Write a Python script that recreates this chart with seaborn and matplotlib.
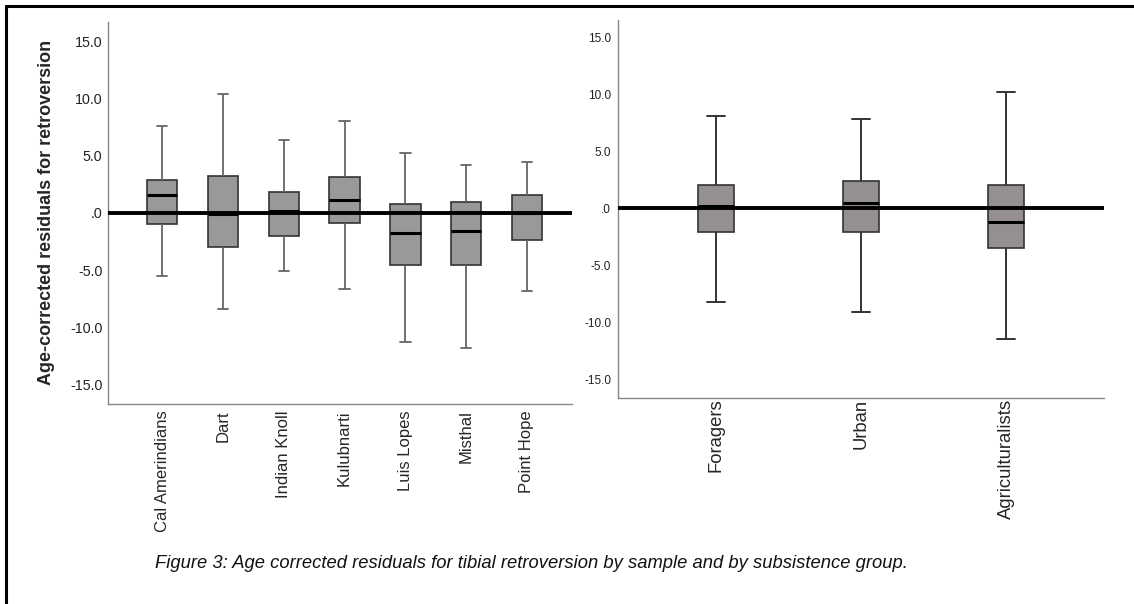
import matplotlib
matplotlib.use("Agg")
import matplotlib.pyplot as plt
from matplotlib.lines import Line2D
import seaborn as sns
import pandas as pd
import numpy as np

sns.set_style("white")
plt.rcParams['font.family'] = ['Liberation Sans', 'DejaVu Sans']

# ---- data: five-number summaries ----
samples = ["Cal Amerindians", "Dart", "Indian Knoll", "Kulubnarti", "Luis Lopes", "Misthal", "Point Hope"]
sample_low = [-5.5, -8.4, -5.1, -6.6, -11.3, -11.8, -6.8]
sample_q1 = [-0.95, -3.0, -2.05, -0.85, -4.5, -4.5, -2.4]
sample_med = [1.55, -0.05, 0.15, 1.15, -1.75, -1.55, 0.0]
sample_q3 = [2.9, 3.2, 1.8, 3.15, 0.8, 1.0, 1.6]
sample_high = [7.6, 10.4, 6.35, 8.0, 5.25, 4.2, 4.45]

groups = ["Foragers", "Urban", "Agriculturalists"]
group_low = [-8.2, -9.1, -11.5]
group_q1 = [-2.05, -2.1, -3.5]
group_med = [0.25, 0.45, -1.2]
group_q3 = [2.05, 2.45, 2.05]
group_high = [8.15, 7.85, 10.25]

ytick_vals = [15, 10, 5, 0, -5, -10, -15]
ytick_labels = ["15.0", "10.0", "5.0", ".0", "-5.0", "-10.0", "-15.0"]

ylabel = "Age-corrected residuals for retroversion"
caption = "Figure 3: Age corrected residuals for tibial retroversion by sample and by subsistence group."


def long_frame(cats, lo, q1, md, q3, hi):
    rows = []
    for c, a, b, m, d, e in zip(cats, lo, q1, md, q3, hi):
        for v in (a, b, m, d, e):
            rows.append({"cat": c, "val": v})
    return pd.DataFrame(rows)


df_s = long_frame(samples, sample_low, sample_q1, sample_med, sample_q3, sample_high)
df_g = long_frame(groups, group_low, group_q1, group_med, group_q3, group_high)

fig = plt.figure(figsize=(11.34, 6.04), dpi=100)
ax1 = fig.add_axes([108 / 1134, 1 - 404 / 604, (572 - 108) / 1134, (404 - 22) / 604])
ax2 = fig.add_axes([618 / 1134, 1 - 398 / 604, (1104 - 618) / 1134, (398 - 20) / 604])

sns.boxplot(data=df_s, x="cat", y="val", order=samples, ax=ax1, whis=np.inf,
            width=0.5, color="#999999", saturation=1, linecolor="#333333", linewidth=1.2,
            whiskerprops=dict(color="#666666", linewidth=1.3),
            capprops=dict(color="#666666", linewidth=1.3),
            medianprops=dict(color="black", linewidth=2.2),
            capwidths=0.17)

sns.boxplot(data=df_g, x="cat", y="val", order=groups, ax=ax2, whis=np.inf,
            width=0.255, color="#968f8f", saturation=1, linecolor="#333333", linewidth=1.2,
            whiskerprops=dict(color="#333333", linewidth=1.4),
            capprops=dict(color="#333333", linewidth=1.4),
            medianprops=dict(color="black", linewidth=2.2),
            capwidths=0.12)

for ax, xl, yl, tsize, ypad, xsize, xpad in (
        (ax1, (-0.89, 6.74), (-16.67, 16.67), 10.3, 4, 12, 4.5),
        (ax2, (-0.676, 2.676), (-16.65, 16.56), 8.5, 5, 13.3, 0.5)):
    ax.axhline(0, color="black", linewidth=2.8, zorder=3)
    ax.set_xlim(*xl)
    ax.set_ylim(*yl)
    ax.set_yticks(ytick_vals)
    ax.set_yticklabels(ytick_labels, fontsize=tsize, color="#222222")
    ax.tick_params(axis="x", labelrotation=90, labelsize=xsize, length=0, pad=xpad)
    ax.tick_params(axis="y", length=0, pad=ypad)
    ax.set_xlabel("")
    ax.set_ylabel("")
    for s in ("top", "right"):
        ax.spines[s].set_visible(False)
    for s in ("left", "bottom"):
        ax.spines[s].set_color("#888888")
        ax.spines[s].set_linewidth(1.0)

ax1.set_ylabel(ylabel, fontsize=13, fontweight="bold", va="center")
ax1.yaxis.set_label_coords((47 - 108) / 464, (404 - 212.5) / 382)

fig.text(155 / 1134, 1 - 563 / 604, caption, fontsize=13.2, style="italic",
         ha="left", va="center", color="#111111")

# outer frame (top and left edges)
fig.add_artist(Line2D([6 / 1134, 1.0], [1 - 6 / 604, 1 - 6 / 604], transform=fig.transFigure,
                      color="black", linewidth=2.2))
fig.add_artist(Line2D([6 / 1134, 6 / 1134], [0.0, 1 - 6 / 604], transform=fig.transFigure,
                      color="black", linewidth=2.2))

fig.savefig("out.png", dpi=100)
